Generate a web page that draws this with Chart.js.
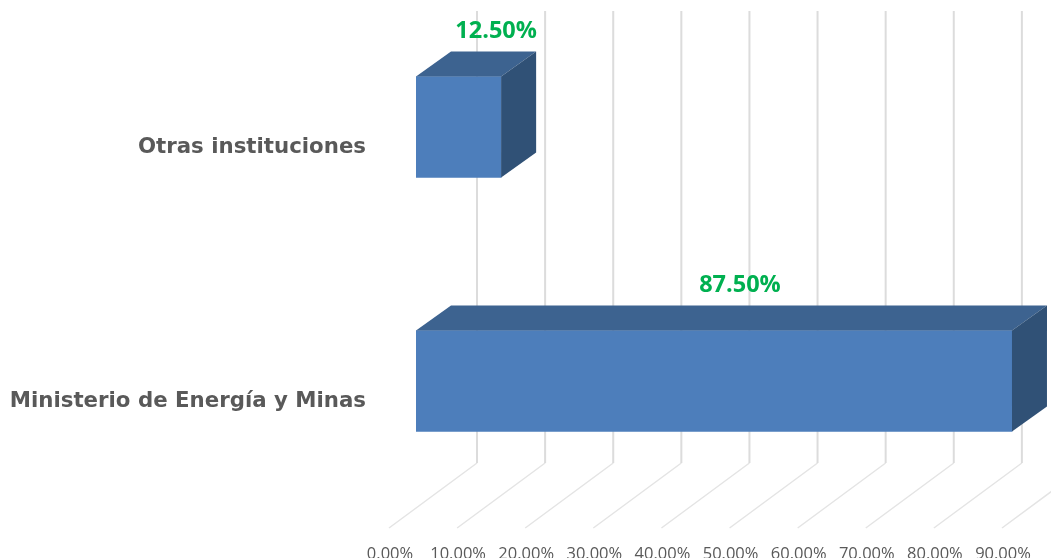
<!DOCTYPE html>
<html>
<head>
<meta charset="utf-8">
<style>
  html, body { margin: 0; padding: 0; background: #fff; }
  canvas { display: block; }
</style>
<script src="https://cdn.jsdelivr.net/npm/chart.js@4"></script>
</head>
<body>
<canvas id="chart" width="1051" height="558"></canvas>
<script>
const categories = ['Otras instituciones', 'Ministerio de Energía y Minas'];
const shares = [12.5, 87.5];
const shareLabels = ['12.50%', '87.50%'];
const tickLabels = ['0.00%', '10.00%', '20.00%', '30.00%', '40.00%', '50.00%', '60.00%', '70.00%', '80.00%', '90.00%'];

// depth of the fake 3D box, in px
const depthX = 35;
const depthY = 25;

const depthGrid = {
  id: 'depthGrid',
  beforeDatasetsDraw(chart) {
    const { ctx, scales: { x } } = chart;
    ctx.save();
    x.ticks.forEach((tick) => {
      const px = x.getPixelForValue(tick.value);
      ctx.strokeStyle = '#e4e4e4';
      ctx.lineWidth = 1.5;
      ctx.beginPath();
      ctx.moveTo(px - 27, 528);
      ctx.lineTo(px + 61, 463);
      ctx.stroke();
      ctx.strokeStyle = '#dcdcdc';
      ctx.lineWidth = 2;
      ctx.beginPath();
      ctx.moveTo(px + 61, 463);
      ctx.lineTo(px + 61, 11);
      ctx.stroke();
    });
    ctx.restore();
  },
};

const boxFaces = {
  id: 'boxFaces',
  afterDatasetsDraw(chart) {
    const { ctx } = chart;
    const bars = chart.getDatasetMeta(0).data;
    // the data labels sit by hand in the source chart
    const labelShift = [-5, -272];
    ctx.save();
    bars.forEach((bar, i) => {
      const left = bar.base;
      const right = bar.x;
      const top = bar.y - bar.height / 2;
      const bottom = bar.y + bar.height / 2;

      ctx.fillStyle = '#3d6390';
      ctx.beginPath();
      ctx.moveTo(left, top);
      ctx.lineTo(left + depthX, top - depthY);
      ctx.lineTo(right + depthX, top - depthY);
      ctx.lineTo(right, top);
      ctx.closePath();
      ctx.fill();

      ctx.fillStyle = '#305176';
      ctx.beginPath();
      ctx.moveTo(right, top);
      ctx.lineTo(right + depthX, top - depthY);
      ctx.lineTo(right + depthX, bottom - depthY);
      ctx.lineTo(right, bottom);
      ctx.closePath();
      ctx.fill();

      ctx.fillStyle = '#00b050';
      ctx.font = 'bold 23.5px "Open Sans"';
      ctx.textAlign = 'center';
      ctx.textBaseline = 'middle';
      ctx.fillText(shareLabels[i], right + labelShift[i], top - 45);
    });
    ctx.restore();
  },
};

const dropPadding = (scale) => {
  scale.paddingLeft = 0;
  scale.paddingRight = 0;
  scale.paddingTop = 0;
  scale.paddingBottom = 0;
};

new Chart(document.getElementById('chart'), {
  type: 'bar',
  data: {
    labels: categories,
    datasets: [{
      data: shares,
      backgroundColor: '#4d7ebb',
      barThickness: 101,
    }],
  },
  options: {
    indexAxis: 'y',
    responsive: false,
    animation: false,
    layout: { padding: { right: 22 } },
    plugins: { legend: { display: false }, tooltip: { enabled: false } },
    scales: {
      x: {
        min: 0,
        max: 90,
        grid: { display: false },
        border: { display: false },
        afterFit: (scale) => { scale.height = 50; dropPadding(scale); },
        ticks: {
          stepSize: 10,
          maxRotation: 0,
          autoSkip: false,
          padding: 28,
          labelOffset: -26,
          color: '#595959',
          font: { family: '"Open Sans"', size: 16.5 },
          callback: (value, index) => tickLabels[index],
        },
      },
      y: {
        grid: { display: false },
        border: { display: false },
        afterFit: (scale) => { scale.width = 416; dropPadding(scale); },
        ticks: {
          padding: 42,
          labelOffset: 20,
          color: '#595959',
          font: { family: '"DejaVu Sans"', size: 21.3, weight: 'bold' },
        },
      },
    },
  },
  plugins: [depthGrid, boxFaces],
});
</script>
</body>
</html>
